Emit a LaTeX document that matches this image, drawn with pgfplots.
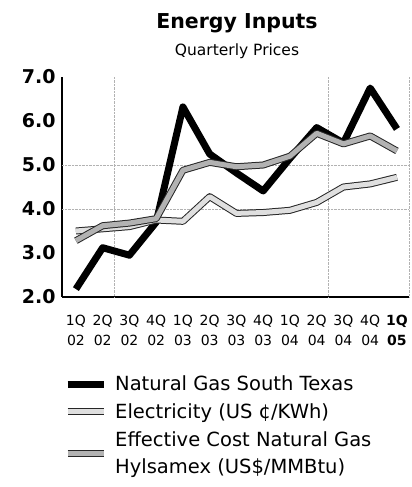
\documentclass[border=0pt]{standalone}
\usepackage{fontspec}
\setmainfont{DejaVu Sans}
\usepackage{pgfplots}
\pgfplotsset{compat=1.18}
\begin{document}
\begin{tikzpicture}[x=1pt,y=1pt]
\useasboundingbox (0,0) rectangle (412,487);
\node[font=\fontsize{20.5}{24}\selectfont\bfseries] at (237,464) {Energy Inputs};
\node[font=\fontsize{15.5}{18}\selectfont] at (237,436) {Quarterly Prices};
\begin{axis}[
  at={(62pt,190pt)}, anchor=south west,
  scale only axis, width=347pt, height=220pt,
  xmin=-0.52, xmax=12.45, ymin=2, ymax=7,
  axis lines=left,
  axis line style={-, line width=2pt, black},
  major tick length=0pt,
  /pgf/number format/assume math mode=true,
  ytick={2,3,4,5,6,7},
  yticklabel style={font=\fontsize{19}{22}\selectfont\bfseries, xshift=-3pt},
  yticklabels={2.0,3.0,4.0,5.0,6.0,7.0},
  xtick={0,...,12},
  xticklabels={{1Q\\02},{2Q\\02},{3Q\\02},{4Q\\02},{1Q\\03},{2Q\\03},{3Q\\03},{4Q\\03},{1Q\\04},{2Q\\04},{3Q\\04},{4Q\\04},{\bfseries 1Q\\\bfseries 05}},
  xticklabel style={font=\fontsize{14}{20}\selectfont, align=center, yshift=-15pt},
  extra y ticks={4,5}, extra y tick labels={},
  extra y tick style={grid=major, major grid style={densely dotted, gray!60, line width=0.6pt}},
  extra x ticks={1.45,9.45,12.45}, extra x tick labels={},
  extra x tick style={grid=major, major grid style={densely dotted, gray!60, line width=0.6pt}},
  legend style={at={(0.0,-0.34)}, anchor=north west, draw=none, fill=none,
    font=\fontsize{19.5}{27}\selectfont, row sep=7.5pt, inner xsep=2pt,
    cells={anchor=west, align=left}},
  legend image code/.code={\draw[#1] (0pt,0pt) -- (36pt,0pt);},
  line join=round,
]
\addplot[black, line width=7pt] coordinates {
(0,2.18) (1,3.12) (2,2.95) (3,3.7) (4,6.32) (5,5.25) (6,4.82) (7,4.41) (8,5.15) (9,5.85) (10,5.5) (11,6.75) (12,5.82)};
\addlegendentry{\hspace{6pt}Natural Gas South Texas}
\addplot[gray!25, line width=5pt, preaction={draw=black!85, line width=7pt}] coordinates {
(0,3.5) (1,3.55) (2,3.6) (3,3.75) (4,3.72) (5,4.28) (6,3.9) (7,3.92) (8,3.97) (9,4.15) (10,4.5) (11,4.57) (12,4.72)};
\addlegendentry{\hspace{6pt}Electricity (US ¢/KWh)}
\addplot[gray!60, line width=5pt, preaction={draw=black!85, line width=7pt}] coordinates {
(0,3.28) (1,3.62) (2,3.68) (3,3.78) (4,4.88) (5,5.06) (6,4.96) (7,5.0) (8,5.2) (9,5.72) (10,5.48) (11,5.66) (12,5.32)};
\addlegendentry{\hspace{6pt}Effective Cost Natural Gas\\\hspace{6pt}Hylsamex (US\$/MMBtu)}
\end{axis}
\end{tikzpicture}
\end{document}
